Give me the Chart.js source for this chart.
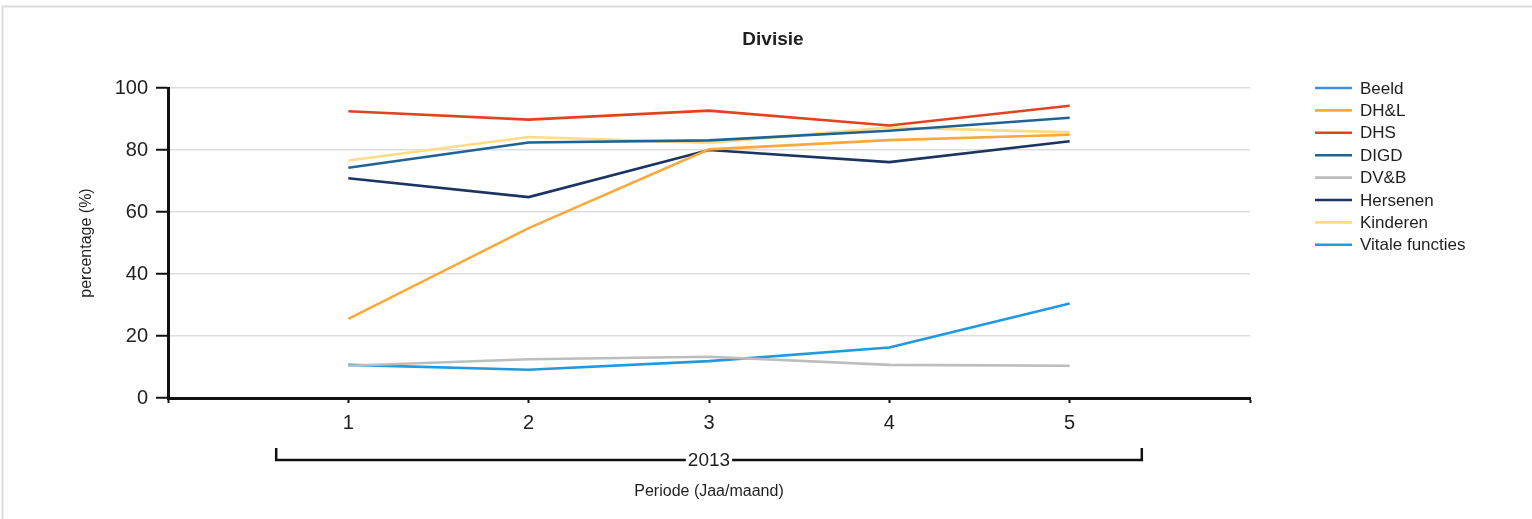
<!DOCTYPE html>
<html>
<head>
<meta charset="utf-8">
<script src="https://cdn.jsdelivr.net/npm/chart.js@4.4.1/dist/chart.umd.min.js"></script>
<style>
  html, body { margin: 0; padding: 0; background: #fff; }
  #wrap { width: 1532px; height: 519px; position: relative; }
</style>
</head>
<body>
<div id="wrap"><canvas id="c" width="1532" height="519"></canvas></div>
<script>
// ---- data ----
const chartTitle = 'Divisie';
const periods = [1, 2, 3, 4, 5];
const yearLabel = '2013';
const seriesNames = ['Beeld', 'DH&L', 'DHS', 'DIGD', 'DV&B', 'Hersenen', 'Kinderen', 'Vitale functies'];
const beeld    = [];
const dhl      = [25.5, 54.8, 80.2, 83.2, 84.9];
const dhs      = [92.5, 89.8, 92.7, 87.9, 94.3];
const digd     = [74.3, 82.4, 83.1, 86.2, 90.4];
const dvb      = [10.4, 12.5, 13.3, 10.7, 10.4];
const hersenen = [70.9, 64.8, 80.0, 76.1, 82.8];
const kinderen = [76.6, 84.2, 82.3, 87.3, 85.7];
const vitale   = [10.7, 9.1, 11.9, 16.3, 30.5];
const yTicks = [0, 20, 40, 60, 80, 100];
const yTitle = 'percentage (%)';
const xTitle = 'Periode (Jaa/maand)';

// ---- styles ----
const colors = ['#3f8fe6', '#fca83a', '#e2431f', '#1d6494', '#bdbdbd', '#1c3461', '#fedc84', '#1f9ade'];
const seriesValues = [beeld, dhl, dhs, digd, dvb, hersenen, kinderen, vitale];
const FONT = '"Liberation Sans", Arial, sans-serif';
const TXT = '#1f1f1f';

const datasets = seriesNames.map((name, i) => ({
  label: name,
  data: seriesValues[i].map((v, j) => ({ x: periods[j], y: v })),
  borderColor: colors[i],
  backgroundColor: colors[i],
  borderWidth: 2.6,
  pointRadius: 0,
  pointHoverRadius: 0,
  tension: 0,
  fill: false
}));

const decor = {
  id: 'decor',
  beforeDraw(chart) {
    const ctx = chart.ctx;
    ctx.save();
    ctx.fillStyle = '#fff';
    ctx.fillRect(0, 0, chart.width, chart.height);
    ctx.strokeStyle = '#dcdcdc';
    ctx.lineWidth = 2;
    ctx.beginPath();
    ctx.moveTo(2.5, chart.height);
    ctx.lineTo(2.5, 6.5);
    ctx.lineTo(chart.width, 6.5);
    ctx.stroke();
    ctx.restore();
  },
  afterDraw(chart) {
    const ctx = chart.ctx;
    const xs = chart.scales.x;
    ctx.save();
    // title
    ctx.fillStyle = TXT;
    ctx.font = 'bold 19px ' + FONT;
    ctx.textAlign = 'center';
    ctx.textBaseline = 'middle';
    ctx.fillText(chartTitle, 773, 40);

    // year bracket
    const x0 = xs.getPixelForValue(periods[0] - 0.4);
    const x1 = xs.getPixelForValue(periods[periods.length - 1] + 0.4);
    const xc = xs.getPixelForValue((periods[0] + periods[periods.length - 1]) / 2);
    const by = 460;
    ctx.font = '19px ' + FONT;
    const tw = ctx.measureText(yearLabel).width;
    ctx.strokeStyle = '#111';
    ctx.lineWidth = 2.5;
    ctx.beginPath();
    ctx.moveTo(x0, by - 12);
    ctx.lineTo(x0, by);
    ctx.lineTo(xc - tw / 2 - 2, by);
    ctx.moveTo(xc + tw / 2 + 2, by);
    ctx.lineTo(x1, by);
    ctx.lineTo(x1, by - 12);
    ctx.stroke();
    ctx.fillStyle = TXT;
    ctx.fillText(yearLabel, xc, by + 1);

    // legend
    ctx.textAlign = 'left';
    ctx.font = '17px ' + FONT;
    chart.data.datasets.forEach((ds, i) => {
      const y = 88 + i * 22.4;
      ctx.strokeStyle = ds.borderColor;
      ctx.lineWidth = 2.6;
      ctx.beginPath();
      ctx.moveTo(1315, y);
      ctx.lineTo(1352, y);
      ctx.stroke();
      ctx.fillStyle = TXT;
      ctx.fillText(ds.label, 1360, y + 1);
    });
    ctx.restore();
  }
};

new Chart(document.getElementById('c'), {
  type: 'line',
  data: { datasets },
  plugins: [decor],
  options: {
    responsive: false,
    animation: false,
    events: [],
    layout: { padding: { top: 88, right: 282, left: 0, bottom: 0 } },
    plugins: {
      legend: { display: false },
      title: { display: false },
      tooltip: { enabled: false }
    },
    scales: {
      x: {
        type: 'linear',
        min: 0,
        max: 6,
        afterBuildTicks(scale) {
          scale.ticks = [0].concat(periods, [6]).map(v => ({ value: v }));
        },
        afterFit(scale) { scale.height = 121; },
        ticks: {
          callback: v => (periods.includes(v) ? String(v) : ''),
          font: { size: 20, family: FONT },
          color: TXT,
          padding: 8,
          maxRotation: 0,
          autoSkip: false
        },
        grid: {
          drawOnChartArea: false,
          drawTicks: true,
          tickLength: 5,
          tickColor: '#111',
          tickWidth: 2
        },
        border: { color: '#111', width: 3 },
        title: {
          display: true,
          text: xTitle,
          font: { size: 16, family: FONT },
          color: TXT,
          padding: { top: 0, bottom: 18 }
        }
      },
      y: {
        min: 0,
        max: 100,
        afterBuildTicks(scale) {
          scale.ticks = yTicks.map(v => ({ value: v }));
        },
        afterFit(scale) { scale.width = 168; },
        ticks: {
          font: { size: 20, family: FONT },
          color: TXT,
          padding: 8
        },
        grid: {
          color: '#dedede',
          lineWidth: 1.5,
          tickLength: 12,
          tickColor: '#111',
          tickWidth: 2
        },
        border: { color: '#111', width: 3 },
        title: {
          display: true,
          text: yTitle,
          font: { size: 16, family: FONT },
          color: TXT,
          padding: { top: 77, bottom: 0 }
        }
      }
    }
  }
});
</script>
</body>
</html>
